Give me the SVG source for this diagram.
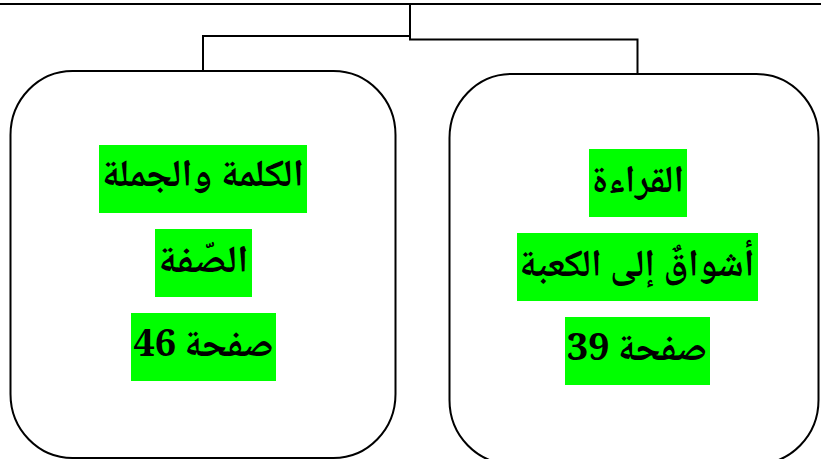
<svg xmlns="http://www.w3.org/2000/svg" width="821" height="459" viewBox="0 0 821 459">
<style>
.box{fill:#fff;stroke:#000;stroke-width:2}
.conn{fill:none;stroke:#000;stroke-width:2}
.hl{fill:#00ff00}
.t{font-family:"Noto Naskh Arabic","Noto Sans Arabic","DejaVu Sans",sans-serif;font-weight:bold;font-size:38px;fill:#000;text-anchor:middle;direction:rtl;unicode-bidi:embed}
</style>
<rect width="821" height="459" fill="#fff"/>
<g id="connectors">
<path class="conn" d="M0 4H821"/>
<path class="conn" d="M410 4V36H203V71"/>
<path class="conn" d="M410 36V39.5H637.5V74"/>
</g>
<g id="node-left">
<rect class="box" x="10.5" y="71" width="385" height="387" rx="62" ry="64"/>
<rect class="hl" x="99" y="145" width="208" height="68"/>
<text class="t" x="203" y="186" textLength="202" lengthAdjust="spacingAndGlyphs">الكلمة والجملة</text>
<rect class="hl" x="155" y="229" width="97" height="68"/>
<text class="t" x="203.5" y="272" textLength="90" lengthAdjust="spacingAndGlyphs">الصّفة</text>
<rect class="hl" x="131" y="313" width="145" height="68"/>
<text class="t" x="203.5" y="356" textLength="140" lengthAdjust="spacingAndGlyphs">صفحة 46</text>
</g>
<g id="node-right">
<rect class="box" x="449.5" y="74" width="369" height="390" rx="62" ry="64"/>
<rect class="hl" x="589" y="149" width="98" height="68"/>
<text class="t" x="638" y="192" textLength="92" lengthAdjust="spacingAndGlyphs">القراءة</text>
<rect class="hl" x="517" y="233" width="241" height="68"/>
<text class="t" x="637" y="276" textLength="235" lengthAdjust="spacingAndGlyphs">أشواقٌ إلى الكعبة</text>
<rect class="hl" x="565" y="317" width="145" height="68"/>
<text class="t" x="637" y="360" textLength="140" lengthAdjust="spacingAndGlyphs">صفحة 39</text>
</g>
</svg>
